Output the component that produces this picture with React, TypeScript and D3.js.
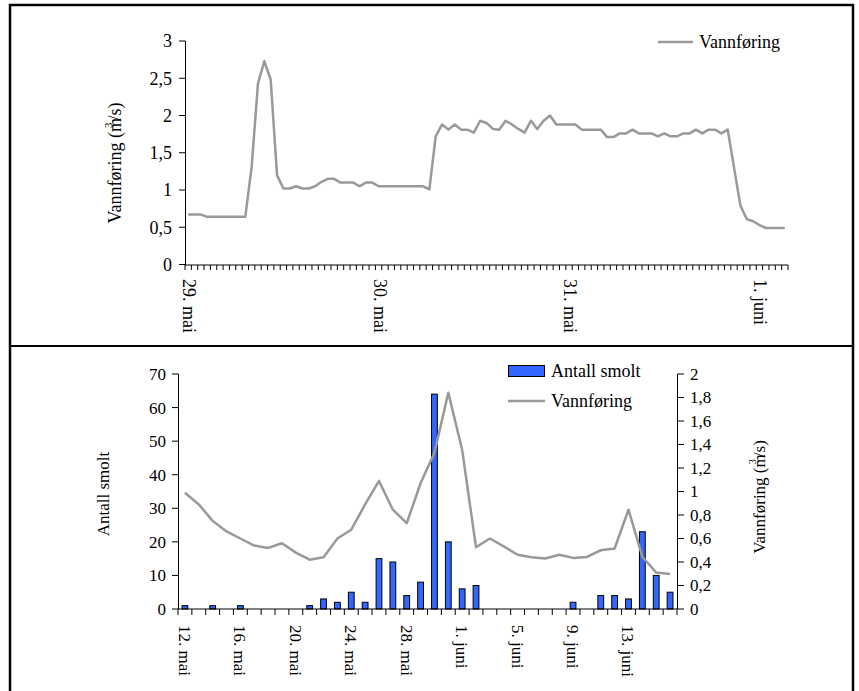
import React from "react";
import * as d3 from "d3";

// ---------- Top chart data (readings, 29. mai – 1. juni) ----------
const topFlow: number[] = [
  0.67, 0.67, 0.67, 0.64, 0.64, 0.64, 0.64, 0.64, 0.64, 0.64,
  1.31, 2.43, 2.73, 2.48, 1.2, 1.02, 1.02, 1.05, 1.02, 1.02,
  1.05, 1.11, 1.15, 1.15, 1.1, 1.1, 1.1, 1.05, 1.1, 1.1,
  1.05, 1.05, 1.05, 1.05, 1.05, 1.05, 1.05, 1.05, 1.01, 1.72,
  1.88, 1.81, 1.88, 1.81, 1.81, 1.77, 1.93, 1.9, 1.82, 1.81,
  1.93, 1.88, 1.82, 1.77, 1.93, 1.82, 1.93, 2.0, 1.88, 1.88,
  1.88, 1.88, 1.81, 1.81, 1.81, 1.81, 1.71, 1.71, 1.76, 1.76,
  1.81, 1.76, 1.76, 1.76, 1.72, 1.76, 1.72, 1.72, 1.76, 1.76,
  1.81, 1.76, 1.81, 1.81, 1.76, 1.81, 1.3, 0.79, 0.61, 0.58,
  0.53, 0.49, 0.49, 0.49, 0.49,
];
const topTickLabels: string[] = ["29. mai", "30. mai", "31. mai", "1. juni"];
const topLabelInterval = 30;
const topYTicks: number[] = [0, 0.5, 1, 1.5, 2, 2.5, 3];

// ---------- Bottom chart data (daily, 12. mai – 16. juni) ----------
const days: string[] = [
  "12. mai", "13. mai", "14. mai", "15. mai", "16. mai", "17. mai", "18. mai",
  "19. mai", "20. mai", "21. mai", "22. mai", "23. mai", "24. mai", "25. mai",
  "26. mai", "27. mai", "28. mai", "29. mai", "30. mai", "31. mai",
  "1. juni", "2. juni", "3. juni", "4. juni", "5. juni", "6. juni", "7. juni",
  "8. juni", "9. juni", "10. juni", "11. juni", "12. juni", "13. juni",
  "14. juni", "15. juni", "16. juni",
];
const smolt: number[] = [
  1, 0, 1, 0, 1, 0, 0, 0, 0, 1, 3, 2, 5, 2, 15, 14, 4, 8, 64, 20,
  6, 7, 0, 0, 0, 0, 0, 0, 2, 0, 4, 4, 3, 23, 10, 5,
];
const dailyFlow: number[] = [
  0.99, 0.89, 0.75, 0.66, 0.6, 0.54, 0.52, 0.56, 0.48, 0.42,
  0.44, 0.6, 0.675, 0.89, 1.09, 0.845, 0.73, 1.07, 1.33, 1.84,
  1.355, 0.525, 0.6, 0.533, 0.462, 0.44, 0.43, 0.462, 0.435, 0.443,
  0.5, 0.515, 0.845, 0.445, 0.31, 0.297,
];
const leftTicks: number[] = [0, 10, 20, 30, 40, 50, 60, 70];
const rightTicks: number[] = [0, 0.2, 0.4, 0.6, 0.8, 1, 1.2, 1.4, 1.6, 1.8, 2];
const bottomLabelInterval = 4;

const FONT = "'Liberation Serif', 'Times New Roman', serif";
const GREY = "#999999";
const BLUE = "#3366ff";

const fmt = (v: number) => String(v).replace(".", ",");

function FlowLabel({ x, y, size }: { x: number; y: number; size: number }) {
  return (
    <text
      transform={`translate(${x},${y}) rotate(-90)`}
      textAnchor="middle"
      fontFamily={FONT}
      fontSize={size}
      fill="#000"
    >
      <tspan>Vannføring (m</tspan>
      <tspan dx={-10} dy={-9} fontSize={size * 0.6}>3</tspan>
      <tspan dx={2} dy={9}>/s)</tspan>
    </text>
  );
}

export default function App() {
  // ---- Top chart scales ----
  const tx = d3
    .scaleBand<number>()
    .domain(d3.range(topFlow.length))
    .range([185, 788]);
  const ty = d3.scaleLinear().domain([0, 3]).range([264.5, 41]);
  const topLine = d3
    .line<number>()
    .x((_, i) => (tx(i) as number) + tx.bandwidth() / 2)
    .y((d) => ty(d));

  // ---- Bottom chart scales ----
  const bx = d3.scaleBand<string>().domain(days).range([178, 677]);
  const byL = d3.scaleLinear().domain([0, 70]).range([609, 374]);
  const byR = d3.scaleLinear().domain([0, 2]).range([609, 374]);
  const barW = 5.8;
  const bottomLine = d3
    .line<number>()
    .x((_, i) => (bx(days[i]) as number) + bx.bandwidth() / 2)
    .y((d) => byR(d));

  const topBoundaries = d3.range(topFlow.length + 1).map((i) => 185 + i * tx.step());
  const bottomBoundaries = d3.range(days.length + 1).map((i) => 178 + i * bx.step());

  return (
    <svg
      width={859}
      height={691}
      style={{ position: "absolute", left: 0, top: 0, background: "#fff" }}
    >
      <rect x={0} y={0} width={859} height={691} fill="#fff" />
      {/* frame */}
      <line x1={9} x2={854} y1={5} y2={5} stroke="#000" strokeWidth={2.5} />
      <line x1={10} x2={10} y1={4} y2={691} stroke="#000" strokeWidth={2.5} />
      <line x1={853} x2={853} y1={4} y2={691} stroke="#000" strokeWidth={2.5} />
      <line x1={9} x2={854} y1={346} y2={346} stroke="#000" strokeWidth={2} />

      {/* ================= TOP CHART ================= */}
      <g>
        <line x1={185.5} x2={185.5} y1={41} y2={265} stroke="#000" />
        {topYTicks.map((t) => (
          <g key={t}>
            <line x1={179} x2={185.5} y1={ty(t)} y2={ty(t)} stroke="#000" />
            <text
              x={172}
              y={ty(t)}
              dy="0.35em"
              textAnchor="end"
              fontFamily={FONT}
              fontSize={18}
            >
              {fmt(t)}
            </text>
          </g>
        ))}
        <line x1={185} x2={788} y1={265} y2={265} stroke="#000" />
        {topBoundaries.map((bxv, i) => (
          <line key={i} x1={bxv} x2={bxv} y1={265} y2={270} stroke="#000" />
        ))}
        {topTickLabels.map((lab, k) => {
          const i = k * topLabelInterval;
          const cx = (tx(i) as number) + tx.bandwidth() / 2;
          return (
            <text
              key={lab}
              transform={`translate(${cx - 5},${279}) rotate(90)`}
              fontFamily={FONT}
              fontSize={18}
            >
              {lab}
            </text>
          );
        })}
        <path d={topLine(topFlow) || ""} fill="none" stroke={GREY} strokeWidth={2.5} strokeLinejoin="round" />
        <FlowLabel x={121} y={163} size={18} />
        {/* legend */}
        <line x1={658} x2={693} y1={42} y2={42} stroke={GREY} strokeWidth={2.5} />
        <text x={699} y={42} dy="0.35em" fontFamily={FONT} fontSize={18}>
          Vannføring
        </text>
      </g>

      {/* ================= BOTTOM CHART ================= */}
      <g>
        <line x1={178.5} x2={178.5} y1={374} y2={609} stroke="#000" />
        {leftTicks.map((t) => (
          <g key={t}>
            <line x1={172} x2={178.5} y1={byL(t)} y2={byL(t)} stroke="#000" />
            <text x={166} y={byL(t)} dy="0.35em" textAnchor="end" fontFamily={FONT} fontSize={17}>
              {t}
            </text>
          </g>
        ))}
        <line x1={677.5} x2={677.5} y1={374} y2={609} stroke="#000" />
        {rightTicks.map((t) => (
          <g key={t}>
            <line x1={677.5} x2={684} y1={byR(t)} y2={byR(t)} stroke="#000" />
            <text x={690} y={byR(t)} dy="0.35em" fontFamily={FONT} fontSize={17}>
              {fmt(t)}
            </text>
          </g>
        ))}
        {smolt.map((v, i) =>
          v > 0 ? (
            <rect
              key={i}
              x={(bx(days[i]) as number) + bx.bandwidth() / 2 - barW / 2}
              y={byL(v)}
              width={barW}
              height={byL(0) - byL(v)}
              fill={BLUE}
              stroke="#000"
              strokeWidth={1}
            />
          ) : null
        )}
        <line x1={178} x2={677} y1={609} y2={609} stroke="#000" />
        {bottomBoundaries.map((v, i) => (
          <line key={i} x1={v} x2={v} y1={609} y2={615} stroke="#000" />
        ))}
        {days.map((d, i) =>
          i % bottomLabelInterval === 0 ? (
            <text
              key={d}
              transform={`translate(${(bx(d) as number) + bx.bandwidth() / 2 - 6},${625}) rotate(90)`}
              fontFamily={FONT}
              fontSize={17}
            >
              {d}
            </text>
          ) : null
        )}
        <path d={bottomLine(dailyFlow) || ""} fill="none" stroke={GREY} strokeWidth={2.5} strokeLinejoin="round" />
        <text
          transform={`translate(${109},${494}) rotate(-90)`}
          textAnchor="middle"
          fontFamily={FONT}
          fontSize={17}
        >
          Antall smolt
        </text>
        <FlowLabel x={765} y={497} size={17} />
        {/* legend */}
        <rect x={508.5} y={365.5} width={36} height={11} fill={BLUE} stroke="#000" />
        <text x={551} y={371} dy="0.35em" fontFamily={FONT} fontSize={18}>
          Antall smolt
        </text>
        <line x1={508} x2={545} y1={401} y2={401} stroke={GREY} strokeWidth={2.5} />
        <text x={551} y={401} dy="0.35em" fontFamily={FONT} fontSize={18}>
          Vannføring
        </text>
      </g>
    </svg>
  );
}
